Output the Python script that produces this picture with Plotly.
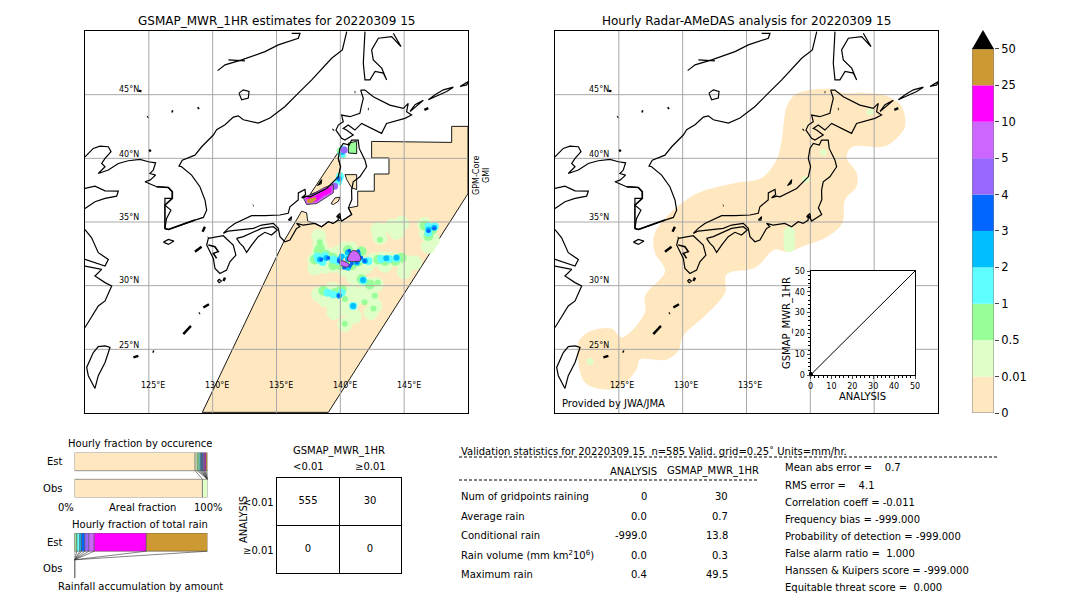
import plotly.graph_objects as go

# colours of the rain classes, low to high
levels = ['0', '0.01', '0.5', '1', '2', '3', '4', '5', '10', '25', '50']
colors = ['#FFE8BF', '#E0FFC8', '#98FF98', '#60FFFF', '#00BFFF', '#0066FF', '#9966FF', '#CC66FF', '#FF00FF', '#CC9933']

grid_lon = [125, 130, 135, 140, 145]
grid_lat = [25, 30, 35, 40, 45]

# coastlines, lon/lat
coast = [
    # mainland
    ([140.50, 140.16, 139.32, 138.28, 137.76, 136.71, 135.67, 134.49, 133.58, 132.40, 132.01, 131.62, 130.97, 130.31, 130.05, 129.14, 128.61, 127.62, 127.36, 127.57, 128.35, 129.0, 129.4, 129.53, 129.27, 128.61, 127.83, 126.53, 126.26, 126.39, 126.73, 126.26, 126.26, 126.84, 126.84, 126.53, 125.61, 125.09, 124.7, 125.09, 125.53, 125.09, 125.35, 125.53, 124.96, 124.31, 123.39, 122.61, 121.83, 121.04, 121.57, 121.31, 121.57, 122.04, 121.83, 121.17, 120.65, 120.0],
     [49.95, 48.51, 47.86, 46.69, 46.16, 45.12, 44.07, 43.16, 42.77, 43.03, 43.34, 43.24, 42.64, 42.25, 41.83, 40.91, 40.25, 39.86, 39.39, 39.34, 38.68, 37.77, 36.72, 35.93, 35.36, 35.15, 34.88, 34.41, 34.49, 35.28, 35.93, 36.32, 36.85, 36.85, 37.37, 37.71, 37.77, 38.03, 38.16, 38.29, 38.68, 38.81, 39.08, 39.65, 39.73, 39.91, 39.81, 39.6, 39.08, 38.81, 39.34, 39.6, 39.99, 40.52, 40.91, 40.96, 40.78, 40.12]),
    ([130.39, 130.97, 132.27, 133.06, 134.10, 135.14, 135.93, 136.71, 136.84, 136.19],
     [46.89, 47.34, 47.73, 47.99, 48.38, 48.91, 49.17, 49.43, 49.82, 49.82]),
    ([131.23, 132.53], [47.73, 47.65]),
    # China
    ([120, 120.78, 121.57, 122.61, 122.48, 121.57, 120.78, 120],
     [37.64, 37.82, 37.45, 37.43, 37.03, 36.85, 36.59, 36.06]),
    ([120, 120.52, 121.04, 121.83, 121.57, 120.78, 120],
     [34.41, 33.76, 32.59, 32.06, 31.54, 31.8, 32.06]),
    ([120, 121.31, 120.78, 121.57, 122.09, 121.83, 121.57, 121.04, 120.39, 120],
     [31.54, 31.28, 30.76, 30.24, 29.97, 29.45, 28.8, 28.41, 27.36, 26.71]),
    # Sakhalin
    ([141.93, 141.88, 141.80, 141.93, 142.32, 142.72, 143.37, 143.63, 143.24, 142.58, 142.45, 142.98, 144.02, 144.75, 144.15],
     [49.95, 48.51, 47.47, 46.16, 46.16, 46.82, 46.69, 46.16, 47.08, 47.73, 48.51, 49.43, 49.56, 48.77, 49.82]),
    # Hokkaido
    ([141.59, 141.8, 141.67, 141.53, 140.75, 140.1, 140.23, 139.84, 139.66, 140.1, 140.36, 141.01, 140.49, 140.23, 140.62, 141.14, 141.67, 143.23, 143.62, 145.06, 145.58, 145.19, 145.32, 144.93, 143.88, 142.58, 141.93, 141.59],
     [45.36, 44.71, 44.18, 43.53, 43.27, 43.4, 42.88, 42.61, 42.22, 41.57, 41.43, 41.83, 42.22, 42.35, 42.61, 42.22, 42.74, 41.96, 42.74, 43.14, 43.4, 43.66, 44.31, 43.92, 44.18, 44.84, 45.36, 45.36]),
    # Kurils
    ([146.89, 147.42, 148.07, 148.85, 148.33, 146.89], [44.6, 44.99, 45.38, 45.59, 45.25, 44.6]),
    ([149.37, 150.03, 149.9, 149.37], [45.64, 46.03, 45.77, 45.64]),
    ([145.46, 146.24, 146.5, 145.85, 145.46], [43.68, 44.34, 44.55, 44.21, 43.68]),
    # Honshu
    ([130.83, 131.22, 131.74, 132.66, 133.05, 134.09, 135.27, 135.92, 136.05, 136.7, 136.71, 137.23, 137.28, 136.97, 137.36, 137.62, 138.93, 139.58, 139.84, 140.02, 139.84, 139.97, 140.23, 140.7, 140.88, 141.4, 141.48, 141.93, 142.06, 141.53, 141.01, 140.88, 140.9, 140.63, 140.89, 140.5, 140.1, 139.84, 139.83, 139.44, 139.05, 138.53, 138.0, 137.09, 136.57, 136.83, 136.57, 136.05, 135.66, 135.27, 135.14, 134.75, 133.83, 133.18, 132.14, 131.22, 130.83],
     [34.11, 34.5, 34.89, 35.34, 35.5, 35.5, 35.55, 35.68, 36.2, 36.73, 37.29, 37.55, 37.16, 36.9, 37.03, 36.98, 37.63, 38.29, 38.55, 39.34, 39.99, 40.78, 41.17, 41.04, 41.43, 41.43, 40.78, 39.86, 39.34, 38.55, 38.16, 37.5, 36.76, 36.11, 35.59, 35.33, 35.07, 35.59, 35.15, 34.89, 35.02, 34.63, 34.89, 34.76, 34.89, 34.63, 34.5, 33.58, 33.45, 33.85, 34.5, 34.89, 34.76, 34.5, 34.37, 34.29, 34.11]),
    # Shikoku
    ([131.87, 132.4, 133.83, 134.75, 135.06, 134.61, 134.09, 133.57, 133.05, 132.66, 132.4, 132.14, 131.87],
     [33.71, 33.85, 34.5, 34.63, 34.37, 33.98, 34.19, 33.85, 33.19, 32.61, 33.06, 33.32, 33.71]),
    # Kyushu
    ([129.66, 130.83, 131.61, 131.82, 131.35, 131.09, 130.57, 130.18, 130.05, 129.79, 129.53, 129.66],
     [33.71, 33.92, 33.19, 32.4, 31.88, 31.22, 30.96, 31.36, 32.14, 32.67, 33.19, 33.71]),
    # Taiwan
    ([121.57, 121.96, 121.57, 121.04, 120.78, 120.26, 120.13, 120.65, 121.04, 121.57],
     [25.27, 25.15, 23.97, 22.93, 21.93, 22.93, 23.58, 24.75, 25.22, 25.27]),
    # Jeju, lake Khanka, Yakushima, Sado, lake Biwa, Kanto lakes
    ([126.14, 126.53, 126.97, 126.53, 126.14], [33.42, 33.63, 33.5, 33.24, 33.42]),
    ([132.06, 132.4, 132.85, 132.79, 132.27, 132.06], [45.12, 45.38, 45.25, 44.73, 44.6, 45.12]),
    ([130.37, 130.52, 130.68, 130.52, 130.37], [30.37, 30.5, 30.37, 30.24, 30.37]),
    ([138.28, 138.54, 138.49, 138.2, 138.28], [37.94, 38.33, 38.02, 37.86, 37.94]),
    ([135.92, 136.18, 136.13, 135.92], [35.15, 35.42, 35.15, 35.15]),
    ([139.7, 139.97, 140.02, 139.7], [35.42, 35.68, 35.29, 35.42]),
]

# rough stretches of coast, a little heavier than the rest
rough = [
    ([126.26, 126.26, 126.84, 126.84, 126.53, 125.61], [34.49, 36.32, 36.85, 37.37, 37.71, 37.77]),
    ([126.26, 126.53, 127.83, 128.61], [34.49, 34.41, 34.88, 35.15]),
    ([129.66, 130.18, 130.44, 130.05, 130.31], [33.19, 33.06, 32.67, 32.54, 32.14]),
]

# small islands come out as thick black ticks
islands = [
    ([129.21, 129.39], [34.24, 34.63]),
    ([129.64, 129.68], [33.75, 33.79]),
    ([128.61, 129.13], [32.67, 33.06]),
    ([133.16, 133.2], [36.28, 36.3]),
    ([130.97, 130.84], [30.63, 30.37]),
    ([129.27, 129.71], [28.28, 28.54]),
    ([128.93, 129.0], [27.82, 27.86]),
    ([127.70, 128.3], [26.19, 26.84]),
    ([123.79, 124.18], [24.36, 24.49]),
    ([125.3, 125.4], [24.85, 24.8]),
    ([128.83, 128.93], [43.9, 43.98]),
    ([126.78, 126.9], [43.7, 43.66]),
    ([124.88, 124.94], [43.22, 43.26]),
    ([139.42, 139.48], [42.22, 42.28]),
    ([142.16, 142.22], [43.87, 43.87]),
    ([141.12, 141.18], [45.2, 45.2]),
    ([125.02, 125.16], [40.55, 40.65]),
    ([124.2, 124.42], [45.3, 45.28]),
    ([146.58, 146.89], [43.81, 43.94]),
]

# GPM-Core swath outline on the estimate map
swath_lon = [129.19, 135.59, 136.97, 137.36, 137.44, 138.0, 138.53, 139.05, 139.44, 139.83, 140.1, 140.5, 140.89, 140.63, 141.36, 141.36, 142.66, 142.66, 143.81, 143.81, 142.45, 142.45, 148.72, 148.72, 150.0, 150.0, 139.06, 129.19]
swath_lat = [20.05, 33.5, 35.85, 35.72, 35.07, 34.89, 34.63, 35.02, 34.89, 35.15, 35.07, 35.33, 35.59, 36.11, 36.24, 37.42, 37.42, 38.77, 38.77, 40.03, 40.03, 41.33, 41.25, 42.51, 42.51, 37.23, 20.05, 20.05]
strip_lon = [137.62, 139.97, 139.84, 140.02, 139.84, 139.58, 138.93, 137.62]
strip_lat = [37.15, 40.68, 39.99, 39.34, 38.55, 38.29, 37.63, 37.15]
cell_lon = [140.37, 141.28, 141.28, 140.89, 140.5, 140.37]
cell_lat = [38.72, 38.72, 37.55, 37.68, 38.33, 38.72]
holm_lon = [139.27, 139.58, 139.97, 139.84, 139.45, 139.27]
holm_lat = [36.45, 36.89, 36.95, 36.63, 36.37, 36.45]
tsugaru_lon = [140.63, 141.28, 141.28, 140.63, 140.63]
tsugaru_lat = [41.2, 41.33, 40.37, 40.42, 41.2]

# band of heavy rain over the Sea of Japan
band_purple_lon = [137.1, 138.02, 138.8, 139.45, 139.45, 138.8, 138.15, 137.36, 137.1]
band_purple_lat = [36.9, 37.29, 37.73, 37.94, 37.29, 36.89, 36.45, 36.37, 36.9]
band_magenta_lon = [137.29, 138.02, 138.8, 139.32, 139.27, 138.67, 138.15, 137.49, 137.29]
band_magenta_lat = [36.9, 37.03, 37.55, 37.81, 37.29, 37.03, 36.63, 36.5, 36.9]
band_brown_lon = [137.36, 138.02, 138.15, 137.76, 137.44, 137.36]
band_brown_lat = [36.76, 36.97, 36.76, 36.5, 36.5, 36.76]

# two violet cores south of Japan
core_a_lon = [140.55, 140.95, 141.4, 141.6, 141.2, 140.6, 140.55]
core_a_lat = [32.1, 32.75, 32.6, 32.0, 31.9, 31.95, 32.1]
core_b_lon = [139.95, 140.2, 140.7, 140.5, 140.0, 139.95]
core_b_lat = [31.9, 31.95, 31.65, 31.45, 31.65, 31.9]

# rain patches by class on the estimate map
est_pale_lon = [138.3, 138.4, 138.3, 138.0, 138.0, 138.8, 139.4, 139.0, 139.7, 140.3, 140.8, 141.5, 141.0, 140.3, 141.5, 142.0, 142.6, 143.3, 144.0, 144.7, 145.2, 143.5, 141.5, 142.0, 142.8, 141.0, 142.96, 144.0, 144.8, 144.4, 143.1, 146.75, 146.6, 147.2, 146.9, 145.8, 145.0, 138.3, 138.8, 139.5, 139.5, 140.3, 141.1, 141.6, 142.4, 142.7, 142.4, 141.1, 140.35, 140.35, 139.3, 140.9, 139.7]
est_pale_lat = [33.9, 33.2, 32.5, 32.0, 31.4, 31.5, 31.6, 32.4, 32.5, 32.9, 32.9, 32.2, 31.7, 31.3, 31.2, 31.5, 32.0, 32.1, 32.1, 32.0, 31.8, 31.6, 30.5, 30.1, 30.1, 30.7, 34.4, 34.66, 34.9, 34.2, 33.8, 34.1, 34.8, 33.6, 33.1, 31.8, 31.1, 29.3, 28.9, 28.4, 27.9, 28.2, 28.9, 29.2, 29.2, 28.4, 27.9, 27.6, 26.95, 28.9, 29.7, 29.5, 29.6]
est_green_lon = [138.4, 138.0, 138.3, 139.45, 140.9, 140.6, 141.66, 142.97, 143.5, 144.3, 144.8, 139.6, 140.1, 138.67, 146.6, 146.9, 147.2, 141.67, 142.3, 138.9, 139.4, 140.0, 141.1, 141.4]
est_green_lat = [32.9, 32.06, 32.7, 31.6, 31.6, 32.8, 32.7, 32.06, 31.95, 31.95, 32.2, 29.45, 29.7, 29.6, 34.7, 33.9, 34.4, 30.5, 30.1, 32.4, 32.2, 31.6, 32.4, 31.9]
est_dot_lon = [138.4, 143.1, 142.93, 140.37, 141.0, 141.9, 142.7, 142.6, 140.35, 140.2, 140.0, 139.95]
est_dot_lat = [33.4, 33.6, 30.25, 28.95, 28.4, 28.7, 29.2, 28.2, 27.0, 40.2, 38.7, 40.6]
est_cyan_lon = [138.28, 138.8, 139.45, 139.84, 140.6, 141.4, 142.2, 143.2, 143.8, 144.4, 141.8, 139.0, 139.45, 140.1, 141.0, 146.9, 147.4, 146.9, 140.2, 140.1, 139.97, 139.85, 138.2, 138.6]
est_cyan_lat = [32.06, 32.33, 32.06, 31.93, 32.33, 32.06, 31.93, 32.1, 32.1, 32.15, 30.4, 29.45, 29.3, 29.45, 28.4, 34.65, 34.65, 34.15, 40.7, 40.35, 38.55, 38.2, 32.3, 31.85]
est_sky_lon = [138.4, 138.9, 139.97, 140.6, 141.3, 141.93, 143.6, 144.4, 141.78, 139.9, 141.0, 146.9, 147.35, 140.15, 139.9, 140.6, 141.4, 141.3, 140.1, 140.6]
est_sky_lat = [32.06, 32.17, 32.06, 32.1, 32.1, 31.93, 32.15, 32.2, 30.45, 29.2, 28.4, 34.4, 34.55, 40.5, 38.4, 32.6, 32.45, 31.8, 32.3, 31.4]
est_blue_lon = [138.5, 139.05, 139.9, 141.9, 139.9, 146.9, 147.35, 139.9, 140.7, 141.4, 141.65, 141.3, 140.9, 139.9, 140.3, 140.75]
est_blue_lat = [32.06, 32.17, 32.0, 31.93, 29.2, 34.3, 34.5, 38.4, 32.75, 32.7, 32.2, 31.85, 31.75, 31.9, 31.4, 31.55]
est_purple_lon = [139.55, 140.3]
est_purple_lat = [37.8, 40.65]

# rain patches on the analysis map
obs_big_lon = [138.35, 138.35, 138.35]
obs_big_lat = [34.15, 33.62, 33.1]
obs_small_lon = [144.67, 141.02, 139.63, 122.74]
obs_small_lat = [43.68, 40.47, 38.33, 24.05]
# outline of the radar coverage
cover_lon = [138.8, 140.1, 141.67, 142.72, 144.02, 146.11, 147.15, 147.42, 146.89, 145.85, 143.24, 142.85, 143.63, 143.63, 142.72, 142.51, 141.41, 139.45, 138.28, 137.23, 135.67, 133.45, 133.32, 131.75, 130.05, 129.66, 128.75, 126.66, 126.4, 125.09, 123.66, 122.35, 121.83, 121.88, 122.87, 124.44, 125.22, 127.05, 127.05, 128.62, 127.83, 127.83, 130.71, 134.1, 136.19, 137.36, 137.76, 137.89, 138.15, 138.8]
cover_lat = [45.0, 45.38, 45.43, 45.12, 45.17, 44.86, 44.07, 42.51, 41.72, 40.94, 40.89, 40.03, 38.85, 37.81, 36.76, 34.94, 33.89, 33.11, 32.64, 32.85, 31.41, 30.89, 29.45, 27.63, 26.06, 24.88, 24.18, 24.18, 23.45, 22.02, 21.88, 22.4, 23.97, 25.67, 26.45, 26.63, 25.93, 27.89, 29.19, 31.15, 32.59, 34.15, 37.03, 38.07, 38.46, 39.9, 41.46, 42.51, 44.07, 45.0]

# inset scatter, grid points near the origin
scatter_x = [0.0, 0.1, 0.2, 0.3, 0.4, 0.0, 0.1]
scatter_y = [0.0, 0.3, 0.1, 0.5, 0.2, 0.7, 0.9]
diag = [0, 50]

# stacked fractions, % of the total per rain class
occ_est = [90.7, 1.6, 1.4, 1.0, 0.8, 1.0, 0.7, 0.7, 1.0, 1.1]
occ_obs = [96.2, 3.8, 0, 0, 0, 0, 0, 0, 0, 0]
rain_est = [0.2, 1.6, 2.2, 1.3, 2.5, 3.0, 4.0, 39.2, 46.0]

# contingency table
table_x = [0.5, 1.5, 0.5, 1.5]
table_y = [1.5, 1.5, 0.5, 0.5]
table_val = ['555', '30', '0', '0']

# statistics panel
row_names = ['Num of gridpoints raining', 'Average rain', 'Conditional rain', 'Rain volume (mm km<sup>2</sup>10<sup>6</sup>)', 'Maximum rain']
row_obs = ['0', '0.0', '-999.0', '0.0', '0.4']
row_est = ['30', '0.7', '13.8', '0.3', '49.5']
scores = ['Mean abs error =    0.7', 'RMS error =    4.1', 'Correlation coeff = -0.011', 'Frequency bias = -999.000',
          'Probability of detection = -999.000', 'False alarm ratio =  1.000', 'Hanssen & Kuipers score = -999.000',
          'Equitable threat score =  0.000']

FONT = 'DejaVu Sans'
W, H = 1080, 612


def xdom(a, b):
    return [a / W, b / W]


def ydom(top, bottom):
    return [1 - bottom / H, 1 - top / H]


fig = go.Figure()


def label(px, py, text, size=10, anchor='center', angle=0):
    fig.add_annotation(x=px / W, y=1 - py / H, xref='paper', yref='paper', text=text, showarrow=False,
                       xanchor=anchor, yanchor='middle', textangle=angle, borderpad=0,
                       font=dict(family=FONT, size=size, color='black'))


def patch(lon, lat, color, ax, outline=None, smooth=False):
    fig.add_trace(go.Scatter(x=lon, y=lat, mode='lines', fill='toself', fillcolor=color, hoverinfo='skip',
                             line=dict(color=outline or color, width=0.9 if outline else 0,
                                       shape='spline' if smooth else 'linear'),
                             xaxis='x' + ax, yaxis='y' + ax))


def blobs(lon, lat, color, size, ax):
    fig.add_trace(go.Scatter(x=lon, y=lat, mode='markers', hoverinfo='skip',
                             marker=dict(color=color, size=size, line=dict(width=0)),
                             xaxis='x' + ax, yaxis='y' + ax))


def lines(segments, width, ax):
    cx, cy = [], []
    for lon, lat in segments:
        cx += lon + [None]
        cy += lat + [None]
    fig.add_trace(go.Scatter(x=cx, y=cy, mode='lines', line=dict(color='black', width=width), hoverinfo='skip',
                             xaxis='x' + ax, yaxis='y' + ax))


def map_lines(ax):
    # grid sits on top of the rain, so it is drawn as a trace
    gx, gy = [], []
    for g in grid_lon:
        gx += [g, g, None]
        gy += [20, 50, None]
    for g in grid_lat:
        gx += [120, 150, None]
        gy += [g, g, None]
    fig.add_trace(go.Scatter(x=gx, y=gy, mode='lines', line=dict(color='#A8A8A8', width=1), hoverinfo='skip',
                             xaxis='x' + ax, yaxis='y' + ax))
    lines(coast, 1.2, ax)
    lines(rough, 1.6, ax)
    lines(islands, 2.4, ax)


# estimate map
patch(swath_lon, swath_lat, colors[0], '', 'black')
patch(strip_lon, strip_lat, colors[0], '', 'black')
patch(cell_lon, cell_lat, colors[0], '', 'black')
patch(holm_lon, holm_lat, colors[0], '', 'black')
patch(tsugaru_lon, tsugaru_lat, colors[2], '', 'black')
blobs(est_pale_lon, est_pale_lat, colors[1], 15, '')
blobs(est_green_lon, est_green_lat, colors[2], 10, '')
blobs(est_dot_lon, est_dot_lat, colors[2], 6, '')
blobs(est_cyan_lon, est_cyan_lat, colors[3], 8, '')
blobs(est_sky_lon, est_sky_lat, colors[4], 6, '')
blobs(est_blue_lon, est_blue_lat, colors[5], 4, '')
blobs(est_purple_lon, est_purple_lat, colors[6], 7, '')
patch(core_a_lon, core_a_lat, colors[7], '', '#333333', smooth=True)
patch(core_b_lon, core_b_lat, colors[7], '', '#333333', smooth=True)
patch(band_purple_lon, band_purple_lat, colors[7], '', '#333333')
patch(band_magenta_lon, band_magenta_lat, colors[8], '')
patch(band_brown_lon, band_brown_lat, colors[9], '')
map_lines('')

# analysis map
patch(cover_lon, cover_lat, colors[0], '2', smooth=True)
blobs(obs_big_lon, obs_big_lat, colors[1], 12, '2')
blobs(obs_small_lon, obs_small_lat, colors[1], 7, '2')
map_lines('2')

# inset scatter
fig.add_trace(go.Scatter(x=diag, y=diag, mode='lines', line=dict(color='black', width=1), hoverinfo='skip',
                         xaxis='x3', yaxis='y3'))
fig.add_trace(go.Scatter(x=scatter_x, y=scatter_y, mode='markers', marker=dict(color='black', size=3), hoverinfo='skip',
                         xaxis='x3', yaxis='y3', cliponaxis=False))

# colour bar
for i, c in enumerate(colors):
    fig.add_trace(go.Bar(x=[0], y=[1], base=[i], width=[1], marker=dict(color=c, line=dict(width=0)),
                         orientation='v', hoverinfo='skip', xaxis='x4', yaxis='y4'))
fig.add_trace(go.Scatter(x=[-0.5, 0.5, 0.5, -0.5, -0.5], y=[0, 0, 10, 10, 0], mode='lines',
                         line=dict(color='#808080', width=1), hoverinfo='skip', xaxis='x4', yaxis='y4'))
fig.add_trace(go.Scatter(x=[-0.5, 0.5, 0], y=[10, 10, 10.52], mode='lines', fill='toself', fillcolor='black',
                         line=dict(color='black', width=0), hoverinfo='skip', xaxis='x4', yaxis='y4'))


def stack(values, cols, y, ax):
    left = 0
    for v, c in zip(values, cols):
        fig.add_trace(go.Bar(x=[v], y=[y], base=[left], width=[0.68], orientation='h', hoverinfo='skip',
                             marker=dict(color=c, line=dict(color='#555555', width=0.6)),
                             xaxis='x' + ax, yaxis='y' + ax))
        left += v


def cumulative(values):
    out, s = [], 0
    for v in values:
        s += v
        out.append(s)
    return out


# occurrence fractions
stack(occ_est, colors, 1, '5')
stack(occ_obs[:2], colors, 0, '5')
lx, ly = [], []
for a, b in zip(cumulative(occ_est), cumulative(occ_obs)):
    lx += [a, b, None]
    ly += [0.66, 0.34, None]
fig.add_trace(go.Scatter(x=lx, y=ly, mode='lines', line=dict(color='#333333', width=0.6), hoverinfo='skip',
                         xaxis='x5', yaxis='y5'))

# rain fractions
stack(rain_est, colors[1:], 1, '6')
lx, ly = [], []
for a in cumulative(rain_est):
    lx += [a, 0, None]
    ly += [0.66, 0.34, None]
fig.add_trace(go.Scatter(x=lx, y=ly, mode='lines', line=dict(color='#333333', width=0.6), hoverinfo='skip',
                         xaxis='x6', yaxis='y6'))
fig.add_trace(go.Scatter(x=[0, 0], y=[-0.34, 0.34], mode='lines', line=dict(color='black', width=1.5), hoverinfo='skip',
                         xaxis='x6', yaxis='y6', cliponaxis=False))

# contingency table
fig.add_trace(go.Scatter(x=table_x, y=table_y, mode='text', text=table_val, textfont=dict(family=FONT, size=10, color='black'),
                         hoverinfo='skip', xaxis='x7', yaxis='y7'))

frame = dict(showline=True, linecolor='black', linewidth=1, mirror=True, showgrid=False, zeroline=False, automargin=False)
hidden = dict(frame, showticklabels=False, ticks='')
stack_y = dict(showline=False, showgrid=False, zeroline=False, automargin=False, range=[-0.34, 1.34], tickvals=[0, 1], ticktext=['Obs', 'Est'],
               ticks='outside', ticklen=9, tickcolor='white', tickwidth=0, tickfont=dict(family=FONT, size=10, color='black'))
stack_x = dict(showline=False, showgrid=False, zeroline=False, automargin=False, range=[0, 100], showticklabels=False, ticks='')

fig.update_layout(
    template='none',
    width=W, height=H, margin=dict(l=0, r=0, t=0, b=0, pad=0), paper_bgcolor='white', plot_bgcolor='white',
    showlegend=False, barmode='overlay', font=dict(family=FONT, color='black'),
    xaxis=dict(hidden, domain=xdom(85, 468), range=[120, 150], anchor='y'),
    yaxis=dict(hidden, domain=ydom(31, 413), range=[20, 50], anchor='x'),
    xaxis2=dict(hidden, domain=xdom(555, 938), range=[120, 150], anchor='y2'),
    yaxis2=dict(hidden, domain=ydom(31, 413), range=[20, 50], anchor='x2'),
    xaxis3=dict(frame, domain=xdom(810.5, 915), range=[0, 50], dtick=10, ticks='outside', ticklen=3, anchor='y3',
                tickfont=dict(family=FONT, size=8), minor=dict(dtick=2, ticks='outside', ticklen=2, tickcolor='black')),
    yaxis3=dict(frame, domain=ydom(271, 375), range=[0, 50], dtick=10, ticks='outside', ticklen=3, anchor='x3',
                tickfont=dict(family=FONT, size=8), minor=dict(dtick=2, ticks='outside', ticklen=2, tickcolor='black')),
    xaxis4=dict(domain=xdom(972, 994), range=[-0.5, 0.5], visible=False, anchor='y4'),
    yaxis4=dict(domain=ydom(30, 413), range=[0, 10.52], side='right', anchor='x4', automargin=False,
                tickvals=list(range(len(levels))), ticktext=levels, ticks='outside', ticklen=4,
                showgrid=False, zeroline=False, showline=False, tickfont=dict(family=FONT, size=11.5, color='black')),
    xaxis5=dict(stack_x, domain=xdom(74.5, 207.5), anchor='y5'),
    yaxis5=dict(stack_y, domain=ydom(452.5, 497.5), anchor='x5'),
    xaxis6=dict(stack_x, domain=xdom(74.5, 207.5), anchor='y6'),
    yaxis6=dict(stack_y, domain=ydom(533, 578), anchor='x6'),
    xaxis7=dict(frame, domain=xdom(277, 401), range=[0, 2], tickvals=[1], showgrid=True, gridcolor='black', gridwidth=1,
                showticklabels=False, ticks='', anchor='y7'),
    yaxis7=dict(frame, domain=ydom(478, 573), range=[0, 2], tickvals=[1], showgrid=True, gridcolor='black', gridwidth=1,
                showticklabels=False, ticks='', anchor='x7'),
)

# map titles and labels
label(276.5, 21, 'GSMAP_MWR_1HR estimates for 20220309 15', 12)
label(746.5, 21, 'Hourly Radar-AMeDAS analysis for 20220309 15', 12)
label(476, 176, 'GPM-Core', 8, angle=-90)
label(486, 176, 'GMI', 8, angle=-90)
label(561, 403, 'Provided by JWA/JMA', 10, 'left')
for x0 in (0, 470):
    for g, py in zip(grid_lat, [345, 281, 217, 154, 89.5]):
        label(128.5 + x0, py, f'{g}°N', 8)
    for g, px in zip(grid_lon, [153, 217, 281, 345, 409]):
        if x0 == 0 or g < 140:
            label(px + x0 - (1 if x0 else 0), 385, f'{g}°E', 8)

# inset axis titles
label(862, 396, 'ANALYSIS', 10)
label(787, 323, 'GSMAP_MWR_1HR', 10, angle=-90)

# fraction panel labels
label(140, 443, 'Hourly fraction by occurence')
label(66, 507, '0%')
label(142, 507, 'Areal fraction')
label(208, 507, '100%')
label(140, 524, 'Hourly fraction of total rain')
label(140, 586, 'Rainfall accumulation by amount')

# contingency labels
label(339, 451, 'GSMAP_MWR_1HR')
label(308, 466, '<0.01')
label(370, 466, '≥0.01')
label(243, 520, 'ANALYSIS', angle=-90)
label(275, 502, '<0.01', anchor='right')
label(275, 550, '≥0.01', anchor='right')

# statistics
label(460, 451, 'Validation statistics for 20220309 15  n=585 Valid. grid=0.25˚ Units=mm/hr.', anchor='left')
label(633, 471, 'ANALYSIS')
label(713, 471, 'GSMAP_MWR_1HR')
for name, a, b, py in zip(row_names, row_obs, row_est, [496, 516, 535, 555, 574]):
    label(460, py, name, anchor='left')
    label(648, py, a, anchor='right')
    label(729, py, b, anchor='right')
for s, py in zip(scores, [468, 485, 502, 519, 536, 553, 570, 587]):
    label(784, py, s, anchor='left')
for x0, x1, py in [(459, 997, 457), (459, 757, 480)]:
    fig.add_shape(type='line', xref='paper', yref='paper', x0=x0 / W, x1=x1 / W, y0=1 - py / H, y1=1 - py / H,
                  line=dict(color='black', width=1, dash='3px,2px'))

fig.write_html("out.html", config={'displayModeBar': False}, post_script="document.body.style.margin='0';")
